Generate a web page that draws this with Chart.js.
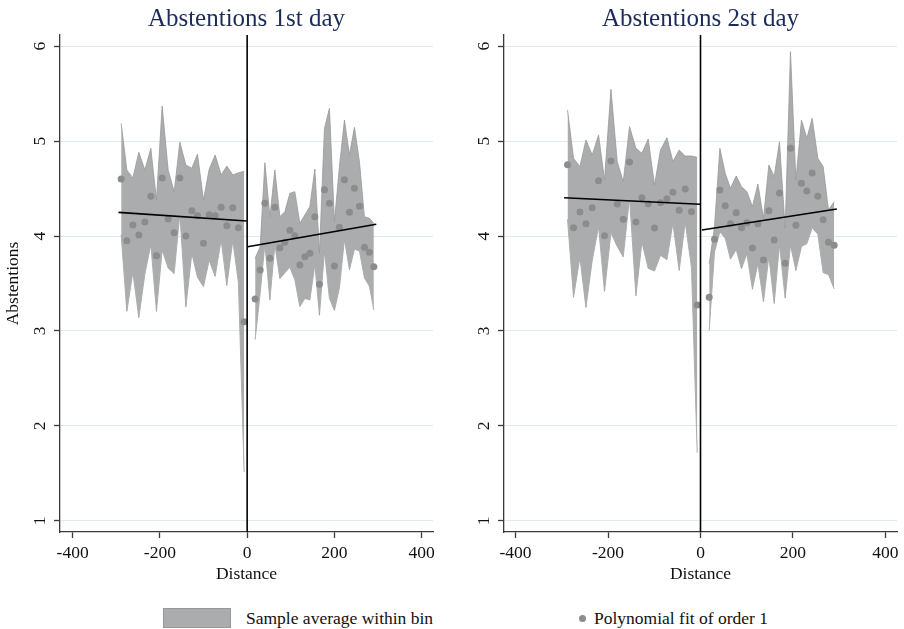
<!DOCTYPE html>
<html>
<head>
<meta charset="utf-8">
<script src="https://cdn.jsdelivr.net/npm/chart.js@4.4.1/dist/chart.umd.min.js"></script>
<style>
  html, body { margin: 0; padding: 0; background: #ffffff; }
  #wrap { position: relative; width: 904px; height: 629px; background: #ffffff; overflow: hidden; }
  .panel { position: absolute; top: 0; width: 452px; height: 595px; }
  .legtxt { position: absolute; font-family: 'Liberation Serif', 'Times New Roman', serif; font-size: 17.5px; color: #111; line-height: 20px; white-space: nowrap; }
</style>
</head>
<body>
<div id="wrap">
  <div class="panel" style="left:0px;"><canvas id="c1"></canvas></div>
  <div class="panel" style="left:452px;"><canvas id="c2"></canvas></div>
  <div style="position:absolute;left:163px;top:608px;width:66px;height:18px;background:rgb(171,172,173);border:1px solid rgb(152,152,152);"></div>
  <div class="legtxt" style="left:246px;top:608px;">Sample average within bin</div>
  <div style="position:absolute;left:579px;top:615px;width:7px;height:7px;border-radius:50%;background:#8c8c8c;"></div>
  <div class="legtxt" style="left:594px;top:608px;">Polynomial fit of order 1</div>
</div>
<script>
// ---------- DATA ----------
const panelTitles = ['Abstentions 1st day', 'Abstentions 2st day'];
const xTickValues = [-400, -200, 0, 200, 400];
const yTickValues = [1, 2, 3, 4, 5, 6];
const cutoff = 0;

// Day 1 – bins left of cutoff
const day1LeftX     = [-288.8, -275.8, -262.0, -248.3, -234.5, -220.8, -207.9, -194.8, -181.1, -167.3, -154.3, -140.5, -126.8, -113.9, -100.1, -87.1, -73.4, -59.6, -46.6, -32.9, -20.0, -6.9];
const day1LeftMean  = [4.600, 3.951, 4.116, 4.011, 4.147, 4.418, 3.793, 4.611, 4.179, 4.035, 4.611, 4.000, 4.266, 4.214, 3.923, 4.224, 4.214, 4.302, 4.108, 4.298, 4.087, 3.098];
const day1LeftUpper = [5.186, 4.695, 4.611, 4.881, 4.695, 4.923, 4.379, 5.368, 4.695, 4.466, 4.986, 4.747, 4.713, 4.863, 4.379, 4.702, 4.853, 4.642, 4.737, 4.642, 4.666, 4.681];
const day1LeftLower = [4.014, 3.207, 3.621, 3.141, 3.599, 3.913, 3.207, 3.854, 3.663, 3.604, 4.236, 3.253, 3.819, 3.565, 3.467, 3.746, 3.575, 3.962, 3.479, 3.954, 3.508, 1.515];
// Day 1 – bins right of cutoff
const day1RightX     = [18.3, 29.8, 40.6, 52.1, 63.5, 75.0, 86.4, 97.9, 109.3, 120.8, 132.3, 143.7, 155.2, 165.7, 177.2, 188.6, 200.1, 211.5, 223.0, 234.5, 245.9, 257.4, 268.8, 280.3, 290.4];
const day1RightMean  = [3.337, 3.642, 4.344, 3.765, 4.302, 3.877, 3.934, 4.060, 4.003, 3.695, 3.782, 3.818, 4.203, 3.492, 4.487, 4.344, 3.684, 4.092, 4.593, 4.249, 4.502, 4.313, 3.881, 3.828, 3.677];
const day1RightUpper = [3.765, 3.888, 4.772, 4.203, 4.695, 4.203, 4.256, 4.449, 4.467, 4.133, 4.221, 4.309, 4.705, 3.818, 5.133, 5.344, 4.151, 4.730, 5.221, 4.853, 5.144, 4.782, 4.203, 4.186, 4.133];
const day1RightLower = [2.909, 3.396, 3.916, 3.327, 3.909, 3.551, 3.612, 3.671, 3.539, 3.257, 3.343, 3.327, 3.701, 3.166, 3.841, 3.344, 3.217, 3.454, 3.965, 3.645, 3.860, 3.844, 3.559, 3.470, 3.221];
// Day 1 – linear fits (end points)
const day1FitLeftX  = [-295, -1];
const day1FitLeftY  = [4.249, 4.158];
const day1FitRightX = [1, 296];
const day1FitRightY = [3.887, 4.123];

// Day 2 – bins left of cutoff
const day2LeftX     = [-287.6, -274.6, -260.8, -247.8, -234.2, -220.5, -207.6, -193.7, -180.1, -167.1, -153.5, -139.7, -126.7, -113.1, -99.5, -86.5, -72.6, -59.7, -46.1, -33.1, -19.5, -7.1];
const day2LeftMean  = [4.751, 4.087, 4.253, 4.129, 4.298, 4.582, 4.003, 4.789, 4.337, 4.176, 4.779, 4.147, 4.403, 4.340, 4.084, 4.351, 4.393, 4.460, 4.271, 4.495, 4.256, 3.274];
const day2LeftUpper = [5.326, 4.818, 4.730, 5.011, 4.853, 5.063, 4.590, 5.544, 4.783, 4.572, 5.151, 4.923, 4.870, 5.021, 4.537, 4.905, 5.035, 4.783, 4.905, 4.842, 4.842, 4.828];
const day2LeftLower = [4.176, 3.356, 3.776, 3.247, 3.743, 4.101, 3.416, 4.034, 3.891, 3.780, 4.407, 3.371, 3.936, 3.659, 3.631, 3.797, 3.751, 4.137, 3.637, 4.148, 3.670, 1.720];
// Day 2 – bins right of cutoff
const day2RightX     = [18.8, 30.3, 41.9, 53.4, 64.9, 77.2, 88.6, 100.3, 112.4, 124.1, 136.2, 147.9, 159.4, 170.8, 183.1, 194.6, 206.3, 218.4, 230.1, 241.5, 253.8, 265.3, 276.8, 289.1];
const day2RightMean  = [3.355, 3.965, 4.484, 4.319, 4.129, 4.245, 4.087, 4.140, 3.874, 4.129, 3.747, 4.267, 3.958, 4.453, 3.713, 4.923, 4.113, 4.555, 4.474, 4.663, 4.418, 4.172, 3.934, 3.902];
const day2RightUpper = [3.705, 4.098, 4.923, 4.660, 4.502, 4.632, 4.519, 4.467, 4.309, 4.548, 4.186, 4.747, 4.625, 4.993, 4.081, 5.940, 4.589, 5.221, 5.028, 5.239, 4.818, 4.730, 4.274, 4.361];
const day2RightLower = [3.005, 3.832, 4.045, 3.978, 3.756, 3.858, 3.655, 3.813, 3.439, 3.710, 3.308, 3.787, 3.291, 3.913, 3.345, 3.906, 3.637, 3.889, 3.920, 4.087, 4.018, 3.614, 3.594, 3.443];
// Day 2 – linear fits (end points)
const day2FitLeftX  = [-295, -1];
const day2FitLeftY  = [4.403, 4.334];
const day2FitRightX = [3, 295];
const day2FitRightY = [4.063, 4.284];

// ---------- STYLE ----------
const SERIF = "'Liberation Serif', 'Times New Roman', serif";
const BAND_FILL = 'rgb(171,172,173)';
const BAND_EDGE = 'rgb(152,152,152)';
const POINT_COL = '#8c8c8c';
const AXIS_COL = '#3a3a3a';
const GRID_COL = '#dcebec';

function pts(xs, ys) { return xs.map((x, i) => ({ x: x, y: ys[i] })); }

const cutoffPlugin = {
  id: 'cutoffLine',
  afterDatasetsDraw(chart) {
    const { ctx, chartArea, scales } = chart;
    const px = scales.x.getPixelForValue(cutoff);
    ctx.save();
    ctx.strokeStyle = '#000';
    ctx.lineWidth = 1.6;
    ctx.beginPath();
    ctx.moveTo(px, chartArea.top);
    ctx.lineTo(px, chartArea.bottom);
    ctx.stroke();
    ctx.restore();
  }
};

// y tick labels rotated 90° (reading upward), placed from the library's y scale
const rotatedYLabels = {
  id: 'rotatedYLabels',
  afterDraw(chart) {
    const { ctx, scales } = chart;
    const ys = scales.y;
    ctx.save();
    ctx.fillStyle = '#111';
    ctx.font = '17.5px ' + SERIF;
    ctx.textAlign = 'center';
    ctx.textBaseline = 'middle';
    ys.ticks.forEach(t => {
      const py = ys.getPixelForValue(t.value);
      ctx.save();
      ctx.translate(ys.right - 20, py);
      ctx.rotate(-Math.PI / 2);
      ctx.fillText(String(t.value), 0, 0);
      ctx.restore();
    });
    ctx.restore();
  }
};

function makeChart(canvasId, cfg) {
  const band = (data, fill) => ({
    type: 'line', data: data, fill: fill, backgroundColor: BAND_FILL,
    borderColor: BAND_EDGE, borderWidth: 0.8, pointRadius: 0, tension: 0, order: 3
  });
  const fit = (data) => ({
    type: 'line', data: data, fill: false, borderColor: '#000', borderWidth: 1.6,
    pointRadius: 0, tension: 0, order: 0
  });
  const datasets = [
    band(pts(cfg.lx, cfg.lu), '+1'),
    band(pts(cfg.lx, cfg.ll), false),
    band(pts(cfg.rx, cfg.ru), '+1'),
    band(pts(cfg.rx, cfg.rl), false),
    { type: 'line', data: pts(cfg.lx, cfg.lm).concat(pts(cfg.rx, cfg.rm)), showLine: false,
      pointRadius: 3.5, pointBackgroundColor: POINT_COL, pointBorderWidth: 0, order: 1 },
    fit(pts(cfg.flx, cfg.fly)),
    fit(pts(cfg.frx, cfg.fry))
  ];
  return new Chart(document.getElementById(canvasId), {
    type: 'line',
    data: { datasets: datasets },
    plugins: [cutoffPlugin, rotatedYLabels],
    options: {
      responsive: true, maintainAspectRatio: false, animation: false, devicePixelRatio: 1,
      layout: { padding: { left: 0, right: cfg.padRight, top: 0, bottom: 0 } },
      plugins: {
        legend: { display: false },
        tooltip: { enabled: false },
        title: {
          display: true, text: cfg.title, fullSize: false, color: '#1c2b5a',
          font: { family: SERIF, size: 25, weight: 'normal' },
          padding: { top: 4, bottom: 1 }
        }
      },
      scales: {
        x: {
          type: 'linear', min: cfg.xmin, max: cfg.xmax,
          afterBuildTicks: (s) => { s.ticks = xTickValues.map(v => ({ value: v })); },
          afterFit: (s) => { s.height = 63; },
          grid: { display: true, drawOnChartArea: false, drawTicks: true, tickLength: 6, tickColor: AXIS_COL, tickWidth: 1.3 },
          border: { display: true, color: AXIS_COL, width: 1.3 },
          ticks: { color: '#111', font: { family: SERIF, size: 17.5 }, padding: 4.5, maxRotation: 0, autoSkip: false },
          title: { display: true, text: 'Distance', color: '#111', font: { family: SERIF, size: 17.5 }, padding: { top: 0, bottom: 10.5 } }
        },
        y: {
          type: 'linear', min: 0.884, max: 6.116,
          afterBuildTicks: (s) => { s.ticks = yTickValues.map(v => ({ value: v })); },
          afterFit: (s) => { s.width = cfg.yWidth; },
          grid: { display: true, drawOnChartArea: true, color: GRID_COL, lineWidth: 1, drawTicks: true, tickLength: 6, tickColor: AXIS_COL, tickWidth: 1.3 },
          border: { display: true, color: AXIS_COL, width: 1.3 },
          ticks: { display: false, autoSkip: false },
          title: { display: cfg.yTitle !== '', text: cfg.yTitle, color: '#111', font: { family: SERIF, size: 17.5 }, padding: { top: 2.5, bottom: 0 } }
        }
      }
    }
  });
}

makeChart('c1', {
  title: panelTitles[0], yTitle: 'Abstentions', yWidth: 60, padRight: 19, xmin: -429, xmax: 426,
  lx: day1LeftX, lm: day1LeftMean, lu: day1LeftUpper, ll: day1LeftLower,
  rx: day1RightX, rm: day1RightMean, ru: day1RightUpper, rl: day1RightLower,
  flx: day1FitLeftX, fly: day1FitLeftY, frx: day1FitRightX, fry: day1FitRightY
});
makeChart('c2', {
  title: panelTitles[1], yTitle: '', yWidth: 52, padRight: 7, xmin: -425, xmax: 425,
  lx: day2LeftX, lm: day2LeftMean, lu: day2LeftUpper, ll: day2LeftLower,
  rx: day2RightX, rm: day2RightMean, ru: day2RightUpper, rl: day2RightLower,
  flx: day2FitLeftX, fly: day2FitLeftY, frx: day2FitRightX, fry: day2FitRightY
});
</script>
</body>
</html>
